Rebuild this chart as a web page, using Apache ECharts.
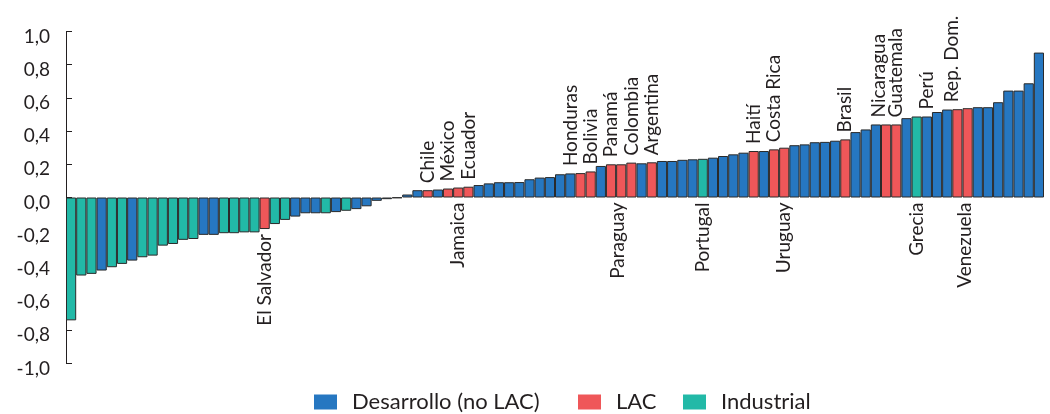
<!DOCTYPE html>
<html>
<head>
<meta charset="utf-8">
<script src="https://cdn.jsdelivr.net/npm/echarts@6/dist/echarts.min.js"></script>
<style>html,body{margin:0;padding:0;background:#fff}#c{width:1050px;height:414px}</style>
</head>
<body>
<div id="c"></div>
<script>
// Values (sorted ascending), one per economy
const values = [
  -0.74, -0.47, -0.46, -0.44, -0.42, -0.40, -0.38, -0.36, -0.35, -0.29,
  -0.28, -0.255, -0.25, -0.225, -0.225, -0.215, -0.215, -0.21, -0.21, -0.19,
  -0.16, -0.135, -0.115, -0.095, -0.095, -0.095, -0.088, -0.08, -0.07, -0.053,
  -0.02, -0.01, -0.003, 0.018, 0.044, 0.044, 0.048, 0.054, 0.06, 0.065,
  0.075, 0.085, 0.092, 0.092, 0.093, 0.11, 0.12, 0.123, 0.14, 0.145,
  0.147, 0.157, 0.19, 0.2, 0.2, 0.21, 0.206, 0.212, 0.22, 0.22,
  0.227, 0.23, 0.233, 0.24, 0.25, 0.26, 0.27, 0.28, 0.28, 0.29,
  0.30, 0.315, 0.32, 0.333, 0.335, 0.342, 0.35, 0.394, 0.41, 0.44,
  0.44, 0.44, 0.478, 0.488, 0.488, 0.515, 0.53, 0.532, 0.538, 0.544,
  0.544, 0.574, 0.644, 0.644, 0.688, 0.873
];
// Group of each bar: D = Desarrollo (no LAC), L = LAC, I = Industrial
const groups = (
  "IIIDIIDIII" + "IIIDDIIIIL" + "IIDDDIDIDD" + "DDDDDLDLLL" + "DDDDDDDDDD" +
  "LLDLLLDLDD" + "DDIDDDDLDL" + "LDDDDDLDDD" + "LLDIDDDLLD" + "DDDDDD"
).split("");
// Named economies: [bar index, name, side]
const namedBars = [
  [19, "El Salvador", "below"],
  [35, "Chile", "above"],
  [37, "México", "above"],
  [38, "Jamaica", "below"],
  [39, "Ecuador", "above"],
  [50, "Honduras", "above"],
  [51, "Bolivia", "above"],
  [53, "Panamá", "above"],
  [54, "Paraguay", "below"],
  [55, "Colombia", "above"],
  [57, "Argentina", "above"],
  [62, "Portugal", "below"],
  [67, "Haití", "above"],
  [69, "Costa Rica", "above"],
  [70, "Uruguay", "below"],
  [76, "Brasil", "above"],
  [80, "Nicaragua", "above"],
  [81, "Guatemala", "above"],
  [83, "Grecia", "below"],
  [84, "Perú", "above"],
  [87, "Rep. Dom.", "above"],
  [88, "Venezuela", "below"]
];
const seriesDefs = [
  ["D", "Desarrollo (no LAC)", "#2677c1"],
  ["L", "LAC", "#ef5759"],
  ["I", "Industrial", "#22b9a7"]
];
const yTicks = { min: -1, max: 1, step: 0.2 };

const categories = values.map((v, i) => "e" + (i + 1));
const nameAt = {};
namedBars.forEach(([i, n, s]) => { nameAt[i] = { n, s }; });
// small horizontal nudges of some labels, as placed in the original
const nudge = { "Honduras": -10, "Nicaragua": -7, "Rep. Dom.": -6, "Paraguay": -3, "Venezuela": -3 };
const legendLeft = [314, 578, 683];
const ink = "#231f20";
const FONT = "Lato, 'Open Sans', sans-serif";

function labelFor(i) {
  const info = nameAt[i];
  if (!info) return undefined;
  const above = info.s === "above";
  return {
    show: true,
    formatter: info.n,
    position: above ? "top" : "bottom",
    rotate: 90,
    align: above ? "left" : "right",
    verticalAlign: "middle",
    distance: above ? 7 : 5,
    offset: [0, nudge[info.n] || 0],
    color: ink,
    fontSize: 19,
    fontFamily: FONT
  };
}

const series = seriesDefs.map(([code, name, color]) => ({
  name,
  type: "bar",
  stack: "all",
  barCategoryGap: "0%",
  itemStyle: { color, borderColor: "#2a2a2a", borderWidth: 1 },
  emphasis: { disabled: true },
  data: values.map((v, i) => {
    if (groups[i] !== code) return null;
    const lab = labelFor(i);
    return lab ? { value: v, label: lab } : { value: v };
  })
}));

const legends = seriesDefs.map((d, k) => ({
  left: legendLeft[k], top: 391, padding: 0,
  itemWidth: 23, itemHeight: 15,
  icon: "rect",
  selectedMode: false,
  itemStyle: { borderWidth: 0 },
  textStyle: { fontSize: 22, color: ink, fontFamily: FONT, padding: [0, 0, 0, 10] },
  data: [d[1]]
}));

const chart = echarts.init(document.getElementById("c"), null, { renderer: "canvas" });
chart.setOption({
  animation: false,
  grid: { left: 66, right: 6, top: 31.5, bottom: 50.5, containLabel: false },
  legend: legends,
  xAxis: {
    type: "category",
    data: categories,
    axisLine: { show: false },
    axisTick: { show: false },
    axisLabel: { show: false },
    splitLine: { show: false }
  },
  yAxis: {
    type: "value",
    min: yTicks.min, max: yTicks.max, interval: yTicks.step,
    axisLine: { show: true, lineStyle: { color: ink, width: 1 } },
    axisTick: { show: true, inside: true, length: 6, lineStyle: { color: ink } },
    splitLine: { show: false },
    axisLabel: {
      margin: 16, fontSize: 19, color: ink, fontFamily: FONT,
      formatter: v => "{v|" + v.toFixed(1).replace(".", ",").replace("-0,0", "0,0") + "}",
      rich: { v: { fontSize: 19, color: ink, fontFamily: FONT, padding: [10, 0, 0, 0] } }
    }
  },
  series
});
</script>
</body>
</html>
